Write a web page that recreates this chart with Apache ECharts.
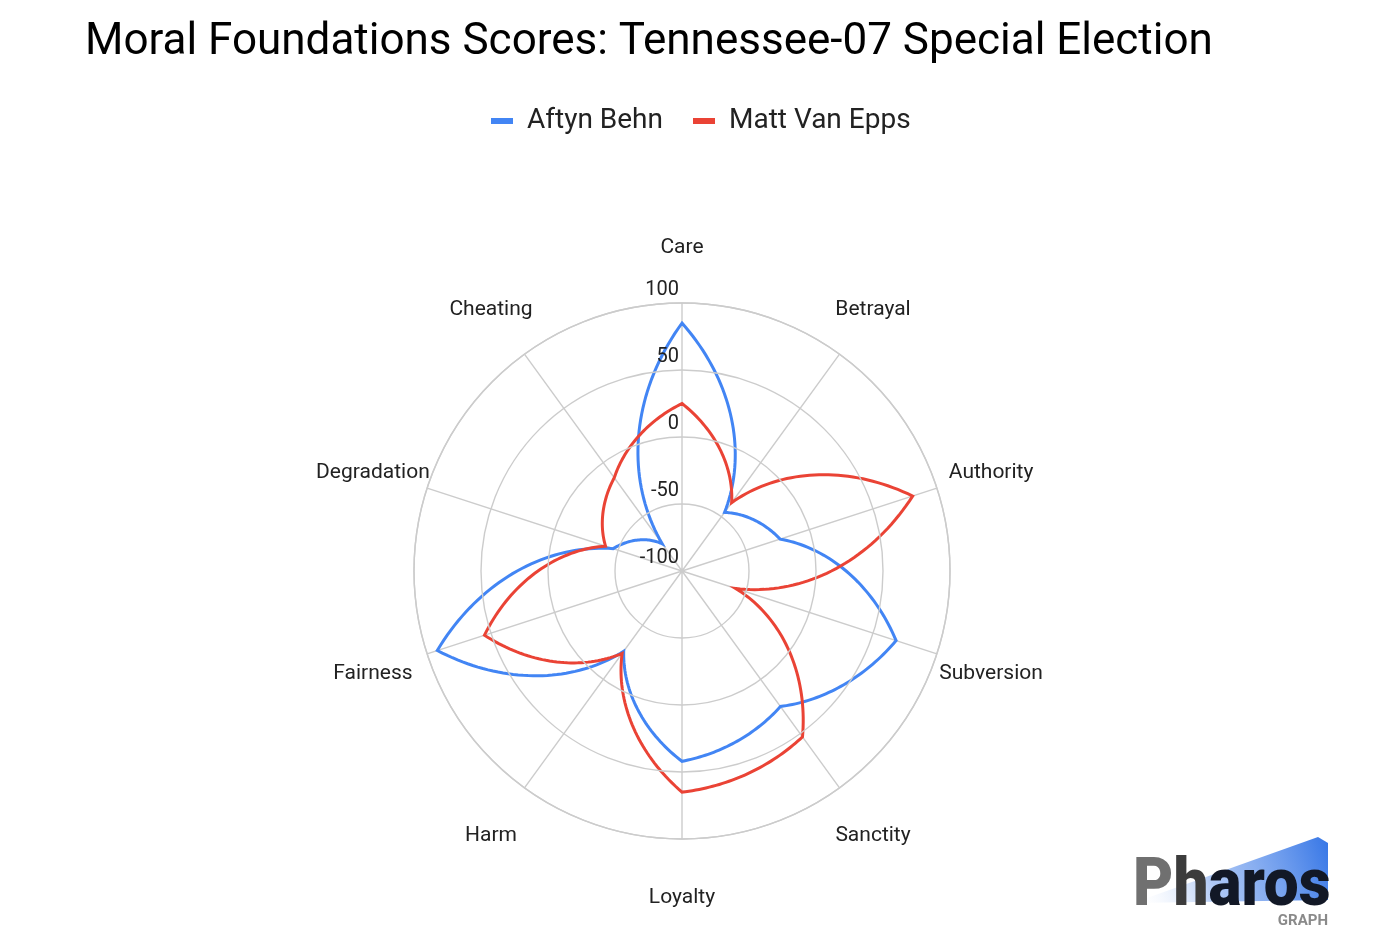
<!DOCTYPE html>
<html>
<head>
<meta charset="utf-8">
<script src="https://cdn.jsdelivr.net/npm/echarts@6/dist/echarts.min.js"></script>
<style>html,body{margin:0;padding:0;background:#fff}#chart{width:1400px;height:945px}</style>
</head>
<body>
<div id="chart"></div>
<script>
const categories = ['Care', 'Betrayal', 'Authority', 'Subversion', 'Sanctity', 'Loyalty', 'Harm', 'Fairness', 'Degradation', 'Cheating'];
const behn = [85, -46, -23, 68, 25, 42, -26, 92, -46, -75];
const vanEpps = [25, -37, 81, -58, 53, 65, -24, 55, -40, -14];
const seriesNames = ['Aftyn Behn', 'Matt Van Epps'];
const radiusTicks = [-100, -50, 0, 50, 100];

const chart = echarts.init(document.getElementById('chart'));
const FONT = 'Roboto';
const R_MIN = radiusTicks[0], R_MAX = radiusTicks[radiusTicks.length - 1];
const LABEL_GAP = 57; // px beyond outer ring, to label centre

function makeSeries(name, values, color) {
  const n = values.length;
  return {
    type: 'custom',
    name: name,
    coordinateSystem: 'polar',
    data: values.map((v, i) => [v, i]),
    itemStyle: { color: color },
    z: 5,
    renderItem: function (params, api) {
      if (params.dataIndex !== 0) return null;
      const S = 40;
      const pts = [];
      for (let i = 0; i < n; i++) {
        const v0 = values[i], v1 = values[(i + 1) % n];
        for (let s = 0; s < S; s++) {
          const t = s / S;
          pts.push(api.coord([v0 + (v1 - v0) * t, i + t]));
        }
      }
      return {
        type: 'polygon',
        shape: { points: pts },
        style: { fill: 'none', stroke: color, lineWidth: 3, lineJoin: 'miter' }
      };
    }
  };
}

const labelSeries = {
  type: 'custom',
  name: 'axis names',
  coordinateSystem: 'polar',
  silent: true,
  z: 3,
  data: categories.map((c, i) => [R_MAX, i]),
  renderItem: function (params, api) {
    const i = api.value(1);
    const c = api.coord([R_MIN, i]);
    const p = api.coord([api.value(0), i]);
    const len = Math.hypot(p[0] - c[0], p[1] - c[1]);
    const k = (len + LABEL_GAP) / len;
    return {
      type: 'text',
      x: c[0] + (p[0] - c[0]) * k,
      y: c[1] + (p[1] - c[1]) * k + 2,
      style: {
        text: categories[i], align: 'center', verticalAlign: 'middle',
        font: '21px Roboto', fill: '#222'
      }
    };
  }
};

const option = {
  animation: false,
  backgroundColor: '#fff',
  title: {
    text: 'Moral Foundations Scores: Tennessee-07 Special Election',
    left: 85, top: 21, padding: 0,
    textStyle: { fontFamily: FONT, fontSize: 44, fontWeight: 'normal', color: '#000' }
  },
  legend: {
    top: 102, left: 486,
    itemWidth: 22, itemHeight: 6, itemGap: 30,
    textStyle: { fontFamily: FONT, fontSize: 28, color: '#222', padding: [0, 0, 0, 9] },
    data: [{ name: seriesNames[0], icon: 'rect' }, { name: seriesNames[1], icon: 'rect' }]
  },
  polar: { center: [682, 571], radius: 268 },
  angleAxis: {
    type: 'value', min: 0, max: categories.length, interval: 1,
    startAngle: 90, clockwise: true,
    axisLine: { show: true, lineStyle: { color: '#cccccc', width: 1.4 } },
    axisTick: { show: false },
    splitLine: { show: true, lineStyle: { color: '#cccccc', width: 1.4 } },
    axisLabel: { show: false }
  },
  radiusAxis: {
    min: R_MIN, max: R_MAX, interval: 50,
    axisLine: { show: false },
    axisTick: { show: false },
    splitLine: { show: true, lineStyle: { color: '#cccccc', width: 1.4 } },
    axisLabel: {
      fontFamily: FONT, fontSize: 20, color: '#222',
      align: 'right', verticalAlign: 'bottom', margin: 3, padding: [0, 0, 3, 0]
    },
    z: 10
  },
  series: [
    labelSeries,
    makeSeries(seriesNames[0], behn, '#4285F4'),
    makeSeries(seriesNames[1], vanEpps, '#EA4335')
  ],
  graphic: [
    {
      type: 'polygon', z: 1,
      shape: { points: [[1133, 903], [1318, 837], [1328, 843], [1328, 900]] },
      style: {
        fill: new echarts.graphic.LinearGradient(0, 1, 1, 0, [
          { offset: 0, color: 'rgba(255,255,255,0)' },
          { offset: 0.4, color: 'rgba(130,170,240,0.65)' },
          { offset: 1, color: '#3676e6' }
        ])
      }
    },
    {
      type: 'text', z: 2, x: 1133, y: 855, scaleX: 0.94,
      style: {
        text: '{a|P}{b|h}{c|aros}',
        font: '900 66px Roboto',
        rich: {
          a: { font: '900 66px Roboto', fill: '#707070' },
          b: { font: '900 66px Roboto', fill: '#3c3c3c' },
          c: { font: '900 66px Roboto', fill: '#121826' }
        }
      }
    },
    {
      type: 'text', z: 2, right: 72, top: 914,
      style: { text: 'GRAPH', font: 'bold 15px Roboto', fill: '#8a8a8a' }
    }
  ]
};
chart.setOption(option);
</script>
</body>
</html>
